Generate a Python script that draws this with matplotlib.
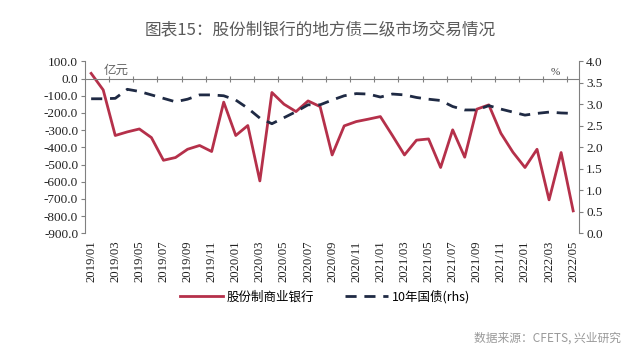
import numpy as np
import matplotlib
matplotlib.use('Agg')
import matplotlib.pyplot as plt

plt.rcParams['font.family'] = ['Noto Sans CJK SC', 'DejaVu Sans']

# 月份 2019/01 - 2022/05
months = ['%d/%02d' % (2019 + (i // 12), i % 12 + 1) for i in range(41)]

# 股份制商业银行 净买入(亿元)
bank = [30, -66, -331, -310, -293, -343, -475, -459, -411, -389,
        -424, -137, -331, -273, -595, -81, -149, -192, -130, -163,
        -444, -275, -250, -236, -221, -331, -444, -358, -351, -517,
        -298, -457, -178, -153, -318, -428, -517, -411, -705, -430,
        -769]

# 10年国债收益率(%)
cgb10 = [3.13, 3.13, 3.14, 3.35, 3.30, 3.22, 3.14, 3.06, 3.12, 3.22,
         3.22, 3.20, 3.10, 2.91, 2.68, 2.55, 2.69, 2.83, 2.99, 2.99,
         3.10, 3.20, 3.25, 3.24, 3.17, 3.24, 3.22, 3.16, 3.12, 3.09,
         2.95, 2.87, 2.87, 2.97, 2.89, 2.82, 2.75, 2.79, 2.82, 2.80,
         2.79]

red = '#b5304a'
navy = '#1f2a44'
grey = '#808080'
serif = ['Liberation Serif', 'DejaVu Serif']

fig = plt.figure(figsize=(6.4, 3.63), dpi=100)
ax = fig.add_axes([0.133, 0.357, 0.772, 0.474])
ax2 = ax.twinx()

x = np.arange(len(months))
l1, = ax.plot(x, bank, color=red, lw=2.0, label='股份制商业银行')
l2, = ax2.plot(x, cgb10, color=navy, lw=2.0, ls=(0, (4, 2.8)), label='10年国债(rhs)')

ax.set_xlim(-0.5, 40.5)
ax.set_ylim(-900, 100)
ax2.set_ylim(0, 4.0)
ax.set_yticks(np.arange(-900, 101, 100))
ax.set_yticklabels(['%.1f' % v for v in np.arange(-900, 101, 100)])
ax2.set_yticks(np.arange(0, 4.01, 0.5))
ax2.set_yticklabels(['%.1f' % v for v in np.arange(0, 4.01, 0.5)])

# x轴放在0值处
ax.spines['bottom'].set_position(('data', 0))
ax.spines['bottom'].set_color(grey)
ax.spines['top'].set_visible(False)
ax2.spines['top'].set_visible(False)
ax2.spines['bottom'].set_visible(False)
ax2.spines['left'].set_visible(False)
ax.spines['left'].set_color(grey)
ax2.spines['right'].set_color(grey)
ax.spines['right'].set_visible(False)

ax.set_xticks(np.arange(1.5, 40, 2))
ax.set_xticklabels([])
ax.tick_params(axis='x', direction='inout', length=5, color=grey)
ax.tick_params(axis='y', direction='out', length=3, color=grey, pad=2,
               labelfontfamily=serif, labelsize=9.5, labelcolor='#222222')
ax2.tick_params(axis='y', direction='out', length=3, color=grey, pad=2,
                labelfontfamily=serif, labelsize=9.5, labelcolor='#222222')

# 日期标签放在底部
for i in range(0, len(months), 2):
    ax.text(i, -940, months[i], rotation=90, ha='center', va='top',
            family=serif, fontsize=9.2, color='#222222')

ax.text(1.0, 48, '亿元', fontsize=9, color='#666666', va='center')
ax.text(38.5, 38, '%', fontsize=8, color='#444444', va='center', ha='center',
        family=serif)

fig.legend([l1, l2], ['股份制商业银行', '10年国债(rhs)'], loc='center',
           bbox_to_anchor=(0.508, 0.182), ncol=2, frameon=False, fontsize=9,
           handlelength=3.4, columnspacing=2.5, handletextpad=0.3)

fig.text(0.5, 0.915, '图表15：股份制银行的地方债二级市场交易情况', ha='center',
         va='center', fontsize=12, color='#5a5a5a')
fig.text(0.97, 0.068, '数据来源：CFETS, 兴业研究', ha='right', va='center',
         fontsize=8.5, color='#999999')

fig.savefig('out.png', dpi=100)
